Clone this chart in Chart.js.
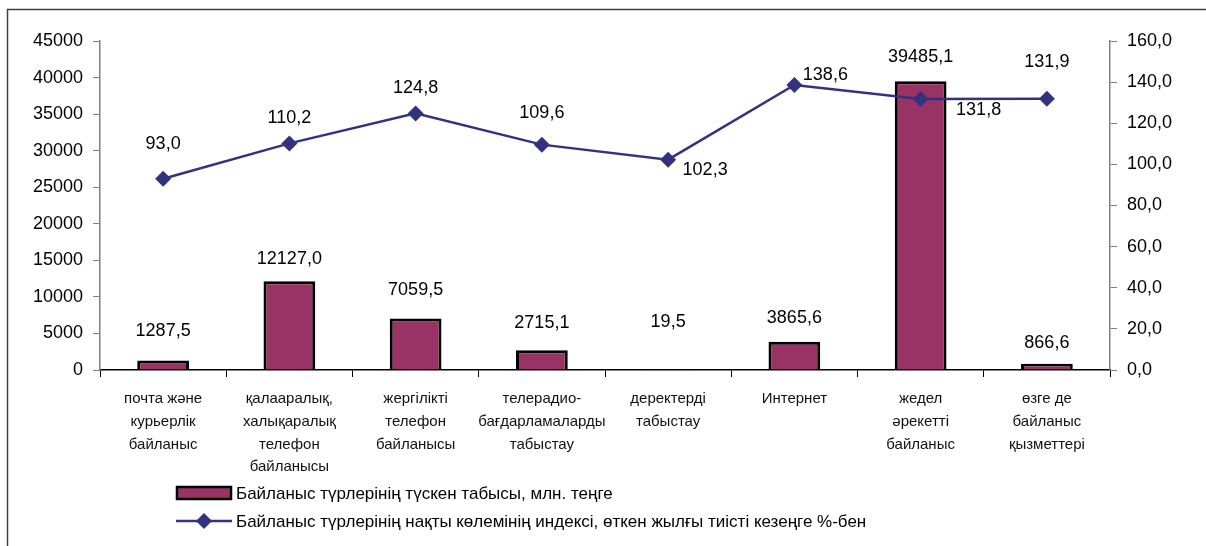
<!DOCTYPE html>
<html>
<head>
<meta charset="utf-8">
<script src="https://cdn.jsdelivr.net/npm/chart.js@4.4.1/dist/chart.umd.min.js"></script>
<style>
  html, body { margin: 0; padding: 0; background: #fff; }
  canvas { display: block; }
</style>
</head>
<body>
<canvas id="chart" width="1206" height="546"></canvas>
<script>
// categories (multi-line, as printed under the axis)
const categories = [
    ['почта және', 'курьерлік', 'байланыс'],
    ['қалааралық,', 'халықаралық', 'телефон', 'байланысы'],
    ['жергілікті', 'телефон', 'байланысы'],
    ['телерадио-', 'бағдарламаларды', 'табыстау'],
    ['деректерді', 'табыстау'],
    ['Интернет'],
    ['жедел', 'әрекетті', 'байланыс'],
    ['өзге де', 'байланыс', 'қызметтері']
];

// revenue, mln tenge
const revenue = [1287.5, 12127.0, 7059.5, 2715.1, 19.5, 3865.6, 39485.1, 866.6];

// real volume index, % of same period last year
const volumeIndex = [93.0, 110.2, 124.8, 109.6, 102.3, 138.6, 131.8, 131.9];

const revenueLabel = 'Байланыс түрлерінің түскен табысы, млн. теңге';
const indexLabel = 'Байланыс түрлерінің нақты көлемінің индексі, өткен жылғы тиісті кезеңге %-бен';

const FONT = 'Arial, "Liberation Sans", sans-serif';
const BAR_COLOR = '#993366';
const LINE_COLOR = '#32327e';

const fmt = v => v.toFixed(1).replace('.', ',');

// label offsets from each mark (px), picked to match the layout of the original
const barLabelOffsets = [[0, -30], [0, -22], [0, -28], [0, -27], [0, -48], [0, -24], [0, -24], [0, -21]];
const lineLabelOffsets = [[0, -35], [0, -25], [0, -25], [0, -32], [37, 10], [31, -10], [58, 11], [0, -37]];

const valueLabels = {
    id: 'valueLabels',
    afterDatasetsDraw(chart) {
        const ctx = chart.ctx;
        ctx.save();
        ctx.font = '18px ' + FONT;
        ctx.fillStyle = '#000';
        ctx.textAlign = 'center';
        ctx.textBaseline = 'middle';
        chart.data.datasets.forEach((ds, i) => {
            const meta = chart.getDatasetMeta(i);
            const offsets = ds.type === 'bar' ? barLabelOffsets : lineLabelOffsets;
            meta.data.forEach((el, j) => {
                const [dx, dy] = offsets[j];
                ctx.fillText(fmt(ds.data[j]), el.x + dx, el.y + dy);
            });
        });
        ctx.restore();
    }
};

const frameAndLegend = {
    id: 'frameAndLegend',
    beforeDraw(chart) {
        const ctx = chart.ctx;
        ctx.save();
        ctx.fillStyle = '#fff';
        ctx.fillRect(0, 0, chart.width, chart.height);
        ctx.strokeStyle = '#404040';
        ctx.lineWidth = 1.5;
        ctx.strokeRect(7.5, 9.5, 1400, 700);
        ctx.restore();
    },
    afterDraw(chart) {
        const ctx = chart.ctx;
        ctx.save();
        ctx.font = '17px ' + FONT;
        ctx.textAlign = 'left';
        ctx.textBaseline = 'middle';

        // bar entry
        ctx.fillStyle = BAR_COLOR;
        ctx.fillRect(177, 487, 54, 12);
        ctx.strokeStyle = '#000';
        ctx.lineWidth = 2.5;
        ctx.strokeRect(177, 487, 54, 12);
        ctx.fillStyle = '#000';
        ctx.fillText(revenueLabel, 236, 494);

        // line entry
        ctx.strokeStyle = LINE_COLOR;
        ctx.lineWidth = 2.5;
        ctx.beginPath();
        ctx.moveTo(176, 521);
        ctx.lineTo(232, 521);
        ctx.stroke();
        ctx.fillStyle = LINE_COLOR;
        ctx.beginPath();
        ctx.moveTo(204, 513);
        ctx.lineTo(212, 521);
        ctx.lineTo(204, 529);
        ctx.lineTo(196, 521);
        ctx.closePath();
        ctx.fill();
        ctx.fillStyle = '#000';
        ctx.fillText(indexLabel, 236, 522);
        ctx.restore();
    }
};

new Chart(document.getElementById('chart'), {
    data: {
        labels: categories,
        datasets: [
            {
                type: 'line',
                label: indexLabel,
                data: volumeIndex,
                yAxisID: 'y1',
                borderColor: LINE_COLOR,
                backgroundColor: LINE_COLOR,
                borderWidth: 2.5,
                pointStyle: 'rectRot',
                pointRadius: 8,
                pointBorderWidth: 0,
                tension: 0,
                order: 0
            },
            {
                type: 'bar',
                label: revenueLabel,
                data: revenue,
                yAxisID: 'y',
                backgroundColor: BAR_COLOR,
                borderColor: '#000',
                borderWidth: 3,
                barPercentage: 0.41,
                categoryPercentage: 1,
                order: 1
            }
        ]
    },
    options: {
        responsive: false,
        animation: false,
        layout: { padding: { left: 0, right: 0, top: 41, bottom: 0 } },
        plugins: {
            legend: { display: false },
            tooltip: { enabled: false }
        },
        scales: {
            x: {
                offset: true,
                grid: { drawOnChartArea: false, offset: true, tickLength: 7, color: '#000' },
                border: { color: '#000', width: 1.5 },
                ticks: {
                    autoSkip: false,
                    maxRotation: 0,
                    padding: 10,
                    color: '#111',
                    font: { family: FONT, size: 15, lineHeight: 1.53 }
                },
                afterFit: s => { s.height = 176; }
            },
            y: {
                position: 'left',
                min: 0,
                max: 45000,
                ticks: {
                    stepSize: 5000,
                    padding: 10,
                    color: '#000',
                    font: { family: FONT, size: 18 },
                    callback: v => String(v)
                },
                grid: { drawOnChartArea: false, tickLength: 7, color: '#808080' },
                border: { color: '#808080', width: 1.5 },
                afterFit: s => { s.width = 100; }
            },
            y1: {
                position: 'right',
                min: 0,
                max: 160,
                ticks: {
                    stepSize: 20,
                    padding: 10,
                    color: '#000',
                    font: { family: FONT, size: 18 },
                    callback: v => fmt(v)
                },
                grid: { drawOnChartArea: false, tickLength: 7, color: '#808080' },
                border: { color: '#808080', width: 1.5 },
                afterFit: s => { s.width = 96; }
            }
        }
    },
    plugins: [valueLabels, frameAndLegend]
});
</script>
</body>
</html>
